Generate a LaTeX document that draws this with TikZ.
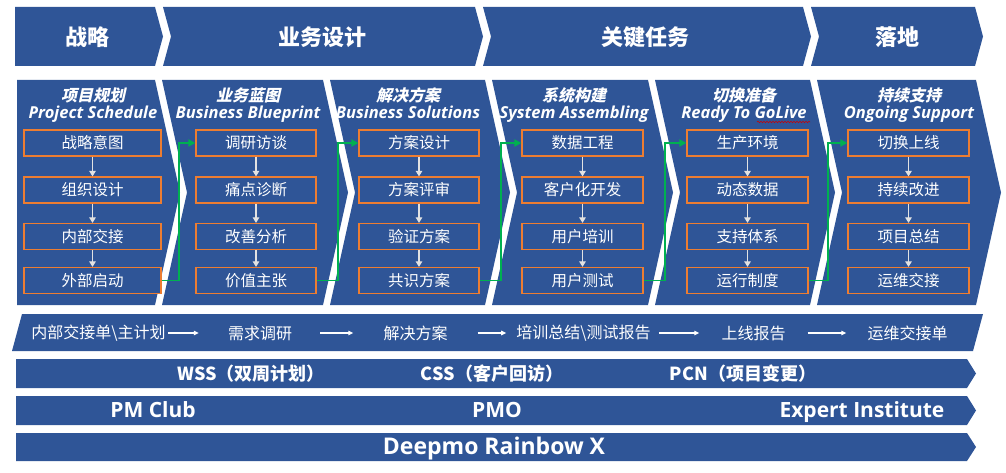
\documentclass[tikz,border=0pt]{standalone}
\usepackage{fontspec}
\setmainfont{Open Sans}
\newfontfamily\cjk{Noto Sans CJK SC}
\newfontfamily\cjksl[FakeSlant=0.22]{Noto Sans CJK SC}
\usetikzlibrary{arrows.meta,decorations.pathmorphing}
\definecolor{dblue}{HTML}{2F5597}
\definecolor{borange}{HTML}{ED7D31}
\definecolor{ggreen}{HTML}{00B050}
\definecolor{lgray}{HTML}{E2E2E2}
\begin{document}
\begin{tikzpicture}[x=1pt,y=-1pt,
  band/.style={fill=dblue},
  hdr/.style={text=white,inner sep=0,font=\cjk\bfseries\fontsize{22}{24}\selectfont},
  ttlcn/.style={text=white,inner sep=0,font=\cjksl\bfseries\fontsize{16}{18}\selectfont},
  ttlen/.style={text=white,inner sep=0,anchor=base,font=\bfseries\itshape\fontsize{16.5}{18}\selectfont},
  box/.style={draw=borange,line width=1.2pt,fill=dblue,text=white,minimum height=26pt,inner sep=0,font=\cjk\fontsize{15.5}{18}\selectfont},
  down/.style={draw=lgray,line width=1.1pt,-{Triangle[length=5.5pt,width=6.5pt]}},
  garrow/.style={draw=ggreen,line width=1.8pt,-{Triangle[length=7pt,width=7pt]}},
  flowtxt/.style={text=white,inner sep=0,font=\cjk\fontsize{16}{18}\selectfont},
  farrow/.style={draw=white,line width=1.1pt,-{Triangle[length=5pt,width=4.5pt]}},
  barcn/.style={text=white,inner sep=0,anchor=base,font=\cjk\bfseries\fontsize{18}{20}\selectfont},
  baren/.style={text=white,inner sep=0,anchor=base,font=\bfseries\fontsize{21}{24}\selectfont},
]
\useasboundingbox (0,0) rectangle (1006,473);

% ---------- header chevrons ----------
\fill[band] (15,7) -- (155,7) -- (163,36.5) -- (155,66) -- (15,66) -- cycle;
\fill[band] (163,7) -- (475,7) -- (483,36.5) -- (475,66) -- (163,66) -- (171,36.5) -- cycle;
\fill[band] (483,7) -- (803,7) -- (811,36.5) -- (803,66) -- (483,66) -- (491,36.5) -- cycle;
\fill[band] (811,7) -- (975,7) -- (983,36.5) -- (975,66) -- (811,66) -- (819,36.5) -- cycle;
\node[hdr] (h1) at (87,37) {战略};
\node[hdr] (h2) at (322,37) {业务设计};
\node[hdr] (h3) at (645,37) {关键任务};
\node[hdr] (h4) at (897,37) {落地};

% ---------- body chevrons ----------
\fill[band] (17,80) -- (155,80) -- (180,192.5) -- (155,305) -- (17,305) -- cycle;
\foreach \L/\R in {162/323,330/485,492/648,655/810,817/976}
  \fill[band] (\L,80) -- (\R,80) -- (\R+25,192.5) -- (\R,305) -- (\L,305) -- (\L+25,192.5) -- cycle;

% ---------- column titles ----------
\foreach \c/\x/\cn/\en in {1/93/项目规划/Project Schedule,2/248/业务蓝图/Business Blueprint,3/408/解决方案/Business Solutions,4/574/系统构建/System Assembling,5/744/切换准备/Ready To GoLive,6/909/持续支持/Ongoing Support}{
  \node[ttlcn] (t\c c) at (\x,95) {\cn};
  \node[ttlen] (t\c e) at (\x,118.5) {\en};
}
\draw[red!80!black,line width=0.6pt,decorate,decoration={snake,amplitude=0.7pt,segment length=3pt}] (757,122) -- (810,122);

% ---------- boxes ----------
\foreach \c/\x/\w/\ra/\rb/\rc/\rd in {
  1/92.5/137/战略意图/组织设计/内部交接/外部启动,
  2/256/120/调研访谈/痛点诊断/改善分析/价值主张,
  3/419/120/方案设计/方案评审/验证方案/共识方案,
  4/582.5/121/数据工程/客户化开发/用户培训/用户测试,
  5/747.5/121/生产环境/动态数据/支持体系/运行制度,
  6/908.5/121/切换上线/持续改进/项目总结/运维交接}{
  \node[box,minimum width=\w pt] (a\c1) at (\x,143) {\ra};
  \node[box,minimum width=\w pt] (a\c2) at (\x,190) {\rb};
  \node[box,minimum width=\w pt] (a\c3) at (\x,236.5) {\rc};
  \node[box,minimum width=\w pt] (a\c4) at (\x,280.5) {\rd};
  \draw[down] (a\c1.south) -- (a\c2.north);
  \draw[down] (a\c2.south) -- (a\c3.north);
  \draw[down] (a\c3.south) -- (a\c4.north);
}

% ---------- green connectors ----------
\draw[garrow] (a14.east) -- ++(17,0) |- (a21.west);
\draw[garrow] (a24.east) -- ++(21,0) |- (a31.west);
\draw[garrow] (a34.east) -- ++(21,0) |- (a41.west);
\draw[garrow] (a44.east) -- ++(21,0) |- (a51.west);
\draw[garrow] (a54.east) -- ++(19,0) |- (a61.west);

% ---------- deliverables bar ----------
\fill[band] (22,314) -- (983,314) -- (973,351) -- (12,351) -- cycle;
\node[flowtxt] (f1) at (98.5,333) {内部交接单\textbackslash 主计划};
\node[flowtxt] (f2) at (260,333) {需求调研};
\node[flowtxt] (f3) at (415.5,333) {解决方案};
\node[flowtxt] (f4) at (583.5,333) {培训总结\textbackslash 测试报告};
\node[flowtxt] (f5) at (753.5,333) {上线报告};
\node[flowtxt] (f6) at (907.5,333) {运维交接单};
\draw[farrow,shorten <=2pt,shorten >=29pt] (f1.east) -- (f2.west);
\draw[farrow,shorten <=28pt,shorten >=30pt] (f2.east) -- (f3.west);
\draw[farrow,shorten <=30pt,shorten >=10pt] (f3.east) -- (f4.west);
\draw[farrow,shorten <=8pt,shorten >=22pt] (f4.east) -- (f5.west);
\draw[farrow,shorten <=22pt,shorten >=21pt] (f5.east) -- (f6.west);

% ---------- bottom bars ----------
\fill[band] (16,359) -- (967,359) -- (976,373.5) -- (967,388) -- (16,388) -- cycle;
\fill[band] (16,396) -- (967,396) -- (976,410.5) -- (967,425) -- (16,425) -- cycle;
\fill[band] (16,433) -- (967,433) -- (976,447) -- (967,461) -- (16,461) -- cycle;
\node[barcn] (w1) at (251,380.5) {WSS（双周计划）};
\node[barcn] (w2) at (492,380.5) {CSS（客户回访）};
\node[barcn] (w3) at (743,380.5) {PCN（项目变更）};
\node[baren] (p1) at (153,417.5) {PM Club};
\node[baren] (p2) at (497,417.5) {PMO};
\node[baren] (p3) at (862,417.5) {Expert Institute};
\node[baren,font=\bfseries\fontsize{23}{26}\selectfont] (d1) at (494,454.5) {Deepmo Rainbow X};
\end{tikzpicture}
\end{document}
